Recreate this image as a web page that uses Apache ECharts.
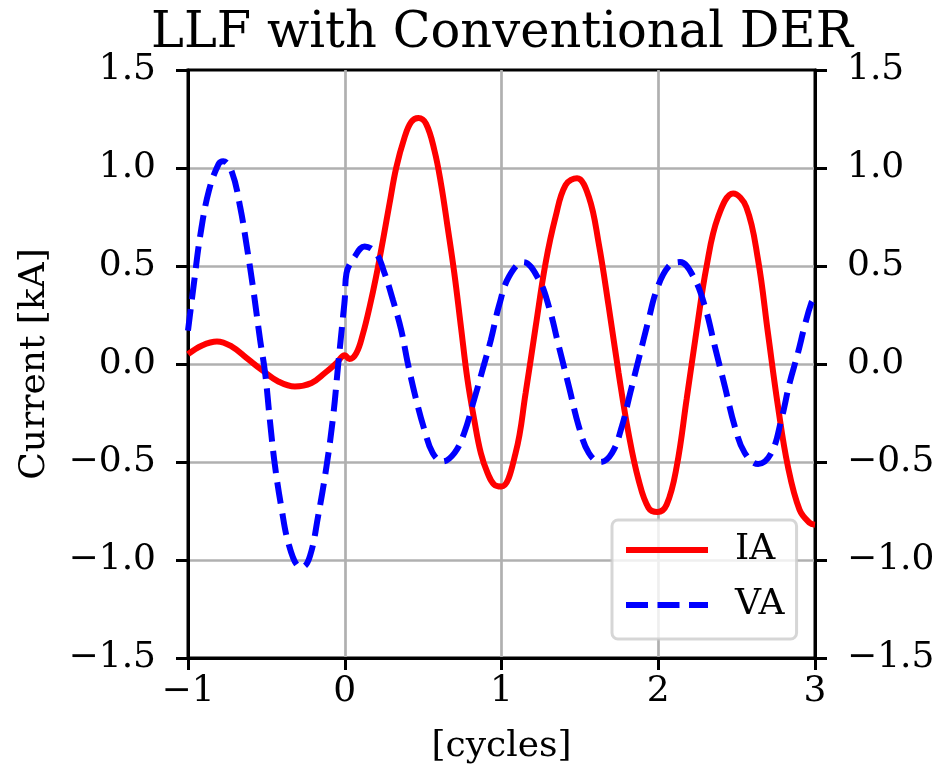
<!DOCTYPE html>
<html>
<head>
<meta charset="utf-8">
<script src="https://cdn.jsdelivr.net/npm/echarts@6/dist/echarts.min.js"></script>
<style>
  html, body { margin: 0; padding: 0; background: #fff; }
  #chart { width: 938px; height: 778px; }
</style>
</head>
<body>
<div id="chart"></div>
<script>
// IA (red, solid)
const iaCycles = [-1.0, -0.91, -0.815, -0.72, -0.625, -0.53, -0.424, -0.318, -0.212, -0.127, -0.053, 0.0, 0.03, 0.074, 0.117, 0.159, 0.2, 0.244, 0.286, 0.328, 0.381, 0.424, 0.47, 0.519, 0.572, 0.614, 0.656, 0.699, 0.741, 0.783, 0.826, 0.868, 0.911, 0.953, 1.0, 1.09, 1.154, 1.218, 1.281, 1.345, 1.409, 1.482, 1.557, 1.62, 1.684, 1.747, 1.81, 1.874, 1.938, 1.995, 2.054, 2.118, 2.181, 2.245, 2.308, 2.382, 2.478, 2.562, 2.637, 2.7, 2.764, 2.827, 2.901, 2.965, 3.0];
const iaValues = [0.05, 0.095, 0.115, 0.089, 0.03, -0.03, -0.089, -0.115, -0.097, -0.046, 0.005, 0.045, 0.025, 0.055, 0.157, 0.293, 0.446, 0.633, 0.82, 1.0, 1.155, 1.235, 1.255, 1.225, 1.09, 0.92, 0.7, 0.463, 0.191, -0.08, -0.284, -0.454, -0.556, -0.615, -0.625, -0.454, -0.148, 0.191, 0.514, 0.751, 0.913, 0.948, 0.853, 0.616, 0.293, -0.046, -0.352, -0.59, -0.734, -0.755, -0.717, -0.522, -0.18, 0.174, 0.497, 0.751, 0.87, 0.8, 0.53, 0.157, -0.217, -0.522, -0.743, -0.81, -0.82];

// VA (blue, dashed)
const vaCycles = [-1.0, -0.964, -0.921, -0.868, -0.805, -0.775, -0.72, -0.667, -0.625, -0.583, -0.54, -0.508, -0.476, -0.445, -0.402, -0.36, -0.3, -0.27, -0.222, -0.17, -0.116, -0.074, -0.043, -0.011, 0.0, 0.011, 0.064, 0.127, 0.2, 0.254, 0.307, 0.36, 0.402, 0.455, 0.508, 0.561, 0.625, 0.7, 0.762, 0.826, 0.879, 0.932, 0.985, 1.048, 1.14, 1.239, 1.302, 1.366, 1.43, 1.493, 1.557, 1.631, 1.705, 1.768, 1.821, 1.874, 1.938, 1.99, 2.065, 2.139, 2.224, 2.298, 2.361, 2.425, 2.488, 2.552, 2.637, 2.721, 2.785, 2.838, 2.891, 2.933, 2.976, 3.0];
const vaValues = [0.17, 0.4, 0.66, 0.88, 1.02, 1.035, 0.98, 0.8, 0.6, 0.378, 0.123, -0.046, -0.3, -0.52, -0.743, -0.912, -1.03, -1.035, -0.98, -0.777, -0.52, -0.267, -0.013, 0.242, 0.33, 0.463, 0.548, 0.6, 0.565, 0.463, 0.327, 0.174, 0.005, -0.18, -0.335, -0.454, -0.497, -0.454, -0.352, -0.18, -0.03, 0.123, 0.3, 0.446, 0.52, 0.43, 0.293, 0.089, -0.115, -0.318, -0.454, -0.5, -0.454, -0.318, -0.148, 0.021, 0.225, 0.378, 0.497, 0.52, 0.446, 0.293, 0.089, -0.115, -0.318, -0.454, -0.51, -0.454, -0.284, -0.097, 0.056, 0.191, 0.31, 0.34];

const FONT = 'DejaVu Serif';

function pairs(xs, ys) {
  return xs.map((x, i) => [x, ys[i]]);
}
function minusFmt(v, digits) {
  return (v < 0 ? '\u2212' : '') + Math.abs(v).toFixed(digits);
}

const gridLine = { show: true, showMinLine: false, showMaxLine: false, lineStyle: { color: '#b0b0b0', width: 2.7 } };

const yAxisBase = {
  type: 'value',
  min: -1.5,
  max: 1.5,
  interval: 0.5,
  axisLine: { show: true, onZero: false, lineStyle: { color: '#000', width: 3 } },
  axisTick: { show: true, inside: false, length: 12, lineStyle: { color: '#000', width: 3 } },
  axisLabel: { fontFamily: FONT, fontSize: 36, color: '#000', margin: 32, formatter: v => minusFmt(v, 1) }
};

const chart = echarts.init(document.getElementById('chart'), null, { renderer: 'canvas' });
chart.setOption({
  backgroundColor: '#fff',
  animation: false,
  title: {
    text: 'LLF with Conventional DER',
    left: 497,
    top: 4,
    textAlign: 'center',
    textStyle: { fontFamily: FONT, fontSize: 49.5, fontWeight: 'normal', color: '#000' }
  },
  grid: {
    left: 188, right: 123, top: 70, bottom: 120,
    show: true, borderColor: '#000', borderWidth: 3, backgroundColor: 'transparent'
  },
  legend: {
    orient: 'vertical',
    left: 612,
    top: 520,
    padding: [10, 12, 14, 11],
    itemWidth: 82,
    itemHeight: 14,
    itemGap: 15,
    backgroundColor: 'rgba(255,255,255,0.8)',
    borderColor: 'rgba(204,204,204,0.8)',
    borderWidth: 3,
    borderRadius: 6,
    itemStyle: { opacity: 0 },
    lineStyle: { width: 6 },
    textStyle: { fontFamily: FONT, fontSize: 36, color: '#000', lineHeight: 40, padding: [0, 0, 0, 22] },
    data: ['IA', 'VA']
  },
  xAxis: {
    type: 'value',
    min: -1,
    max: 3,
    interval: 1,
    name: '[cycles]',
    nameLocation: 'middle',
    nameGap: 71,
    nameTextStyle: { fontFamily: FONT, fontSize: 36, color: '#000' },
    axisLine: { show: true, onZero: false, lineStyle: { color: '#000', width: 3 } },
    axisTick: { show: true, inside: false, length: 12, lineStyle: { color: '#000', width: 3 } },
    axisLabel: { fontFamily: FONT, fontSize: 36, color: '#000', margin: 16, formatter: v => minusFmt(v, 0) },
    splitLine: gridLine
  },
  yAxis: [
    Object.assign({}, yAxisBase, {
      position: 'left',
      name: 'Current [kA]',
      nameLocation: 'middle',
      nameGap: 135,
      nameTextStyle: { fontFamily: FONT, fontSize: 36, color: '#000' },
      splitLine: gridLine
    }),
    Object.assign({}, yAxisBase, {
      position: 'right',
      splitLine: { show: false }
    })
  ],
  series: [
    {
      name: 'IA',
      type: 'line',
      data: pairs(iaCycles, iaValues),
      symbol: 'none',
      smooth: 0.4,
      clip: true,
      lineStyle: { color: '#ff0000', width: 6 },
      itemStyle: { color: '#ff0000' },
      z: 3
    },
    {
      name: 'VA',
      type: 'line',
      data: pairs(vaCycles, vaValues),
      symbol: 'none',
      smooth: 0.4,
      clip: true,
      lineStyle: { color: '#0000ff', width: 6, type: [22, 9.5] },
      itemStyle: { color: '#0000ff' },
      z: 4
    }
  ]
});
</script>
</body>
</html>
